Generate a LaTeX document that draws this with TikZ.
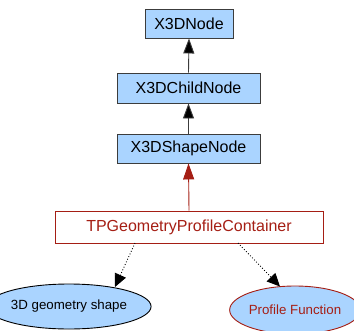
\documentclass[tikz,border=0pt]{standalone}
\usepackage{fontspec}
\setmainfont{Liberation Sans}
\usetikzlibrary{arrows.meta,shapes.geometric}
\definecolor{boxblue}{RGB}{170,212,255}
\definecolor{boxgray}{RGB}{60,60,60}
\definecolor{darkred}{RGB}{165,30,20}
\begin{document}
\begin{tikzpicture}[x=1pt,y=-1pt,
  cls/.style={draw=boxgray,fill=boxblue,line width=0.9pt,rectangle,inner sep=0pt,
    font=\fontsize{16}{18}\selectfont,text=black},
  redbox/.style={draw=darkred,fill=white,line width=0.9pt,rectangle,inner sep=0pt,
    font=\fontsize{16}{18}\selectfont,text=darkred},
  ell/.style={ellipse,fill=boxblue,line width=0.9pt,inner sep=0pt,
    font=\fontsize{13.3}{15}\selectfont},
  inh/.style={line width=0.9pt,draw=boxgray,-{Triangle[length=15pt,width=11pt,fill=black]}},
  inhred/.style={line width=0.9pt,draw=darkred,-{Triangle[length=16pt,width=11pt,fill=darkred]}},
  dep/.style={line width=0.9pt,dotted,draw=black,-{Triangle[length=13pt,width=12pt,fill=black,sep=0pt]}}
]
\useasboundingbox (0,0) rectangle (354,330);
\node[cls,minimum width=88pt,minimum height=29pt] (x3d) at (189,23.5) {X3DNode};
\node[cls,minimum width=143pt,minimum height=30pt] (child) at (188.5,88) {X3DChildNode};
\node[cls,minimum width=143pt,minimum height=29pt] (shape) at (188.5,148.5) {X3DShapeNode};
\node[redbox,minimum width=268pt,minimum height=32pt] (tp) at (189,227) {TPGeometryProfileContainer};
\node[ell,draw=black,minimum width=120pt,minimum height=45pt] (geo) at (69,306.5) {3D geometry shape};
\node[ell,draw=darkred,text=darkred,minimum width=120pt,minimum height=48pt] (prof) at (295,310) {Profile Function};
\draw[inh] (child.north) -- (x3d.south);
\draw[inh] (shape.north) -- (child.south);
\draw[inhred] (tp.north) -- (shape.south);
\coordinate (s1) at (135,243);
\coordinate (t1) at (115,287);
\coordinate (s2) at (238,243);
\coordinate (t2) at (280,286.5);
\draw[dep] (s1) -- (t1);
\draw[dep] (s2) -- (t2);
\end{tikzpicture}
\end{document}
